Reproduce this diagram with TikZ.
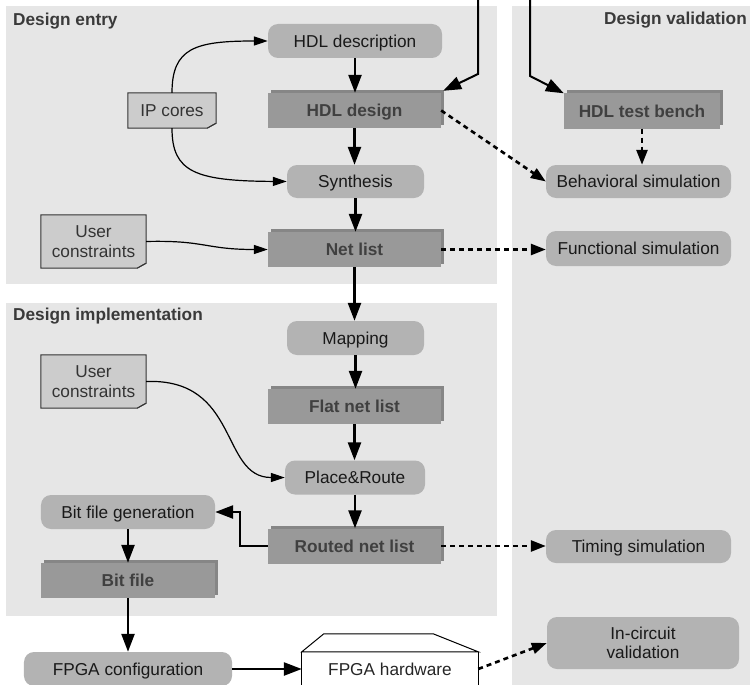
\documentclass[tikz,border=0pt]{standalone}
\usepackage{fontspec}
\setmainfont{Liberation Sans}
\usetikzlibrary{arrows.meta,shadows,backgrounds}

\definecolor{panelgray}{HTML}{E6E6E6}
\definecolor{procgray}{HTML}{B3B3B3}
\definecolor{datagray}{HTML}{999999}
\definecolor{datashade}{HTML}{868686}
\definecolor{datatext}{HTML}{404040}
\definecolor{notegray}{HTML}{CCCCCC}
\definecolor{notefoldgray}{HTML}{999999}
\definecolor{titletext}{HTML}{3A3A3A}

\begin{document}
\begin{tikzpicture}[x=1bp,y=-1bp,
  font=\fontsize{17.3}{19.5}\selectfont,
  capcentred/.style={text height=12.4bp, text depth=0pt},
  natural/.style={text height=, text depth=},
  panel/.style={fill=panelgray},
  title/.style={font=\fontsize{17.3}{19.5}\selectfont\bfseries, text=titletext, inner sep=0},
  proc/.style={rounded corners=10bp, fill=procgray, inner sep=0, text=black!90, align=center, capcentred},
  datanode/.style={fill=datagray, inner sep=0, text=datatext,
    font=\fontsize{17.3}{19.5}\selectfont\bfseries, capcentred,
    minimum width=173bp, minimum height=35bp,
    general shadow={fill=datashade, shadow xshift=3bp, shadow yshift=3bp}},
  note/.style={inner sep=0, text=black!80, align=center},
  notebox/.style={fill=notegray, draw=black!80, line width=1bp, line join=miter},
  notefold/.style={fill=notefoldgray, draw=black!80, line width=0.8bp},
  hwline/.style={draw=black, line width=1bp},
  flow/.style={line width=2.5bp, -{Triangle[length=18bp,width=13bp]}},
  feed/.style={line width=2bp, -{Triangle[length=18bp,width=13bp]}},
  sim/.style={line width=2.6bp, dash pattern=on 5bp off 4bp, -{Triangle[length=15bp,width=11bp]}},
  link/.style={line width=1.2bp, -{Triangle[length=14bp,width=9bp]}},
]
\useasboundingbox (0,0) rectangle (750,685);

% flow panels
\begin{scope}[on background layer]
  \fill[panel] (6,6) rectangle (497,284);
  \fill[panel] (6,303) rectangle (497,616);
  \fill[panel] (512,6) rectangle (752,690);
\end{scope}

\node[title, anchor=base west] (tentry) at (13,25.5) {Design entry};
\node[title, anchor=base west] (timpl) at (13,320.5) {Design implementation};
\node[title, anchor=base east] (tvalid) at (747,25) {Design validation};

% main tool chain
\node[proc, minimum width=174bp, minimum height=34bp] (hdldesc) at (355,41) {HDL description};
\node[datanode] (hdldesign) at (354.5,110.5) {HDL design};
\node[proc, minimum width=137bp, minimum height=33bp] (synth) at (355.5,181.5) {Synthesis};
\node[datanode] (netlist) at (354.5,249.5) {Net list};
\node[proc, minimum width=137bp, minimum height=34bp] (mapping) at (355.5,338) {Mapping};
\node[datanode] (flat) at (354.5,406.5) {Flat net list};
\node[proc, minimum width=140bp, minimum height=34bp] (pr) at (355,477.5) {Place\&Route};
\node[datanode] (routed) at (354.5,546) {Routed net list};
\node[proc, minimum width=174bp, minimum height=34bp] (bfg) at (128,512) {Bit file generation};
\node[datanode, minimum width=174bp] (bitfile) at (128,580.5) {Bit file};
\node[proc, minimum width=208bp, minimum height=34bp] (fpgacfg) at (128,669) {FPGA configuration};
\node[inner sep=0, minimum width=176bp, minimum height=34bp] (hw) at (390,669) {};

% validation column
\node[datanode, minimum width=156bp] (hdltb) at (642,111) {HDL test bench};
\node[proc, minimum width=185bp, minimum height=33bp] (behav) at (638.5,181.5) {Behavioral simulation};
\node[proc, minimum width=185bp, minimum height=35bp] (func) at (638.5,248.5) {Functional simulation};
\node[proc, minimum width=185bp, minimum height=33bp] (timing) at (638.5,546.5) {Timing simulation};
\node[proc, natural, minimum width=192bp, minimum height=52bp] (incirc) at (643,643) {In-circuit\\validation};

% side inputs
\node[note, capcentred, minimum width=88bp, minimum height=35bp] (ipc) at (172,110.5) {IP cores};
\node[note, minimum width=105bp, minimum height=53bp] (uc1) at (93.5,241.5) {User\\constraints};
\node[note, minimum width=105bp, minimum height=53bp] (uc2) at (93.5,381.5) {User\\constraints};

% note sheets with a folded corner
\begin{scope}[on background layer]
  \foreach \n in {ipc,uc1,uc2} {
    \draw[notebox] (\n.north west) -- (\n.north east) -- ([yshift=5bp]\n.south east)
      -- ([xshift=-9bp]\n.south east) -- (\n.south west) -- cycle;
    \draw[notefold] ([xshift=-9bp]\n.south east) -- ([xshift=-4bp,yshift=3bp]\n.south east)
      -- ([yshift=5bp]\n.south east) -- cycle;
  }
\end{scope}

% hardware outline, open towards the bottom
\draw[hwline, fill=white] (hw.north west) -- ([xshift=22bp,yshift=18bp]hw.north west)
  -- ([xshift=-45bp,yshift=18bp]hw.north east) -- (hw.north east) -- cycle;
\draw[hwline] (hw.north west) -- ([yshift=-40bp]hw.north west);
\draw[hwline] (hw.north east) -- ([yshift=-40bp]hw.north east);
\node[inner sep=0, capcentred, text=black!85] (hwlabel) at (hw) {FPGA hardware};

% incoming lines from above
\coordinate (srcA) at (478,-2);
\coordinate (srcB) at (530,-2);
\draw[feed] (srcA) -- (478,74) -- ([xshift=2bp,yshift=2bp]hdldesign.north east);
\draw[feed] (srcB) -- (530,76) -- (hdltb.north west);

% main flow
\draw[flow] (hdldesc.south) -- (hdldesc.south |- hdldesign.north);
\draw[flow] (hdldesign.south) -- (hdldesign.south |- synth.north);
\draw[flow] (synth.south) -- (synth.south |- netlist.north);
\draw[flow] (netlist.south) -- (netlist.south |- mapping.north);
\draw[flow] (mapping.south) -- (mapping.south |- flat.north);
\draw[flow] (flat.south) -- (flat.south |- pr.north);
\draw[flow] (pr.south) -- (pr.south |- routed.north);
\draw[flow] (routed.west) -- ++(-28,0) |- (bfg.east);
\draw[flow] (bfg.south) -- (bfg.south |- bitfile.north);
\draw[flow] (bitfile.south) -- (bitfile.south |- fpgacfg.north);
\draw[flow] (fpgacfg.east) -- (hw.west);

% simulation links
\draw[sim] (hdldesign.east) -- (behav.west);
\draw[sim] (hdltb.south) -- (hdltb.south |- behav.north);
\draw[sim] (netlist.east) -- (netlist.east -| func.west);
\draw[sim] (routed.east) -- (routed.east -| timing.west);
\draw[sim] (hw.east) -- (incirc.west);

% side inputs
\draw[link] (ipc.north) .. controls (172,48) and (195,41) .. (hdldesc.west);
\draw[link] (ipc.south) .. controls (172,172) and (195,181) .. (synth.west);
\draw[link] (uc1.east) .. controls (205,240) and (205,249.5) .. (netlist.west);
\draw[link] (uc2.east) .. controls (240,378) and (220,477.5) .. (pr.west);
\end{tikzpicture}
\end{document}
